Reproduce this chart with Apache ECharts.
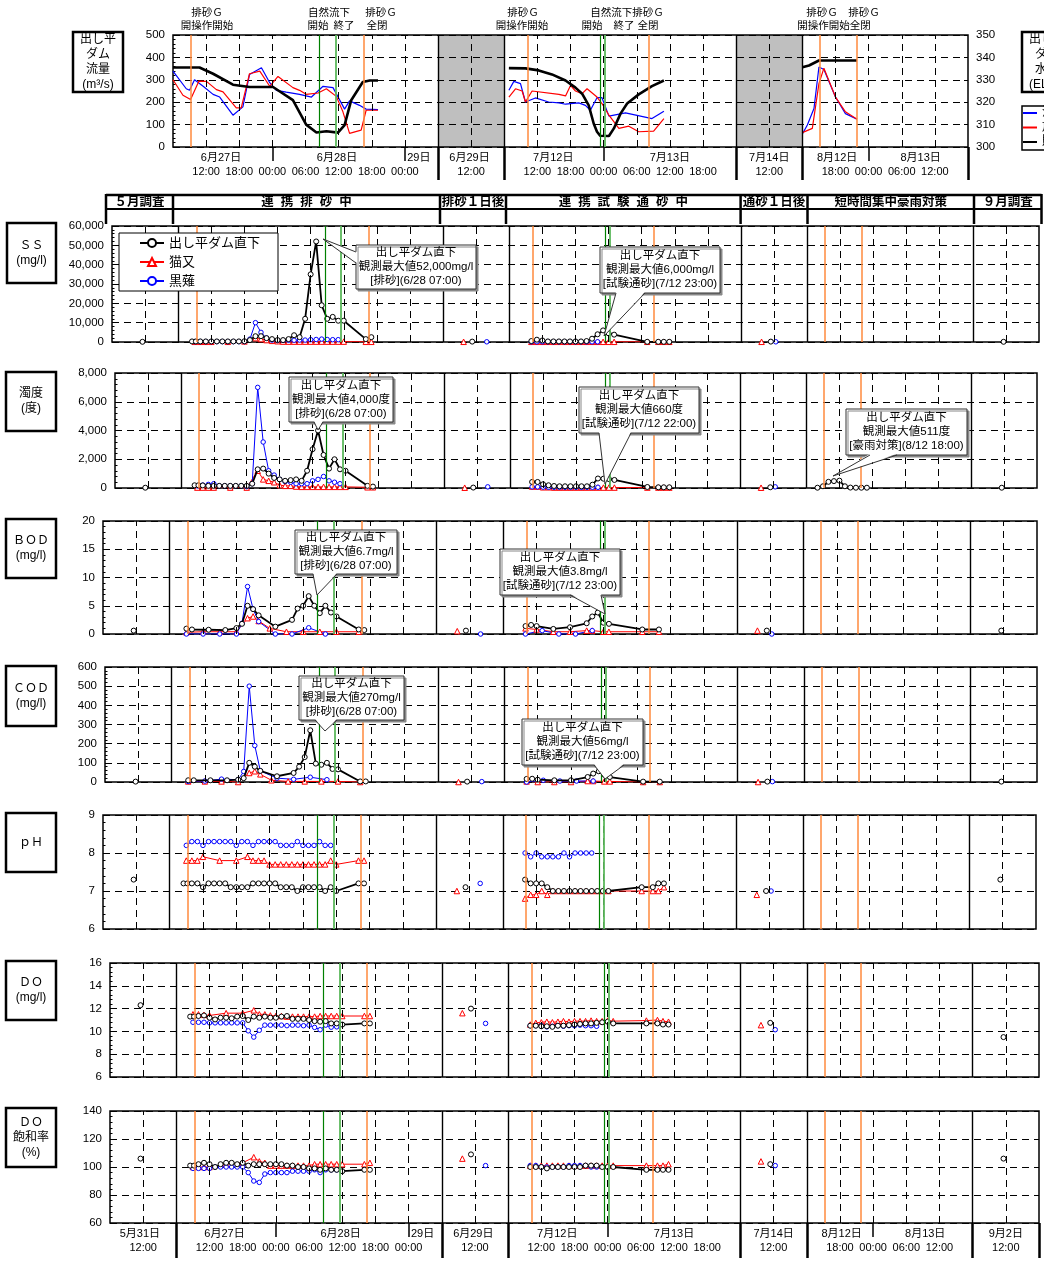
<!DOCTYPE html>
<html>
<head>
<meta charset="utf-8">
<script src="https://cdn.jsdelivr.net/npm/echarts@6/dist/echarts.min.js"></script>
<style>
html, body { margin: 0; padding: 0; background: #fff; }
#main { width: 1044px; height: 1263px; }
</style>
</head>
<body>
<div id="main"></div>
<script>
// x axis is a broken time axis: 1 unit = 6 hours, segments glued together
// 5/31 06:00 = 0, 6/27 06:00 = 2, 6/29 06:00 = 10, 7/12 06:00 = 12,
// 7/14 06:00 = 19, 8/12 12:00 = 21, 9/2 06:00 = 26, end = 28
const U_B = h => 2 + h / 6
const U_D = h => 12 + h / 6
const U_F = h => 21 + h / 6
const segBounds = [2, 10, 12, 19, 21, 26]

// sampling hours (after 6/27 06:00 / 7/12 06:00 / 8/12 12:00)
const hBlackB = [2.5, 3.2, 4, 5, 6, 7, 8, 9, 10, 11, 12, 13, 14, 15, 16, 17, 18, 19, 20, 21, 22, 23, 24, 25, 26, 27, 28, 29, 30, 34, 35]
const hRedB = [3, 4, 5, 6, 9, 12, 14, 15, 16, 17, 18, 19, 20, 21, 22, 23, 24, 25, 26, 27, 28, 29, 30, 34, 35]
const hBlueB = [3, 4, 5, 6, 7, 8, 9, 10, 11, 12, 13, 14, 15, 16, 17, 18, 19, 20, 21, 22, 23, 24, 25, 26, 27, 28, 29]
const hBlackD = [4, 5, 6, 7, 8, 9, 10, 11, 12, 13, 14, 15, 16, 17, 18, 19, 25, 27, 28, 29]
const hRedD = [4, 5, 6, 7, 8, 9, 10, 11, 12, 13, 14, 15, 16, 17, 18, 19, 25, 27, 28, 29]
const hBlueD = [4, 5, 6, 7, 8, 9, 10, 11, 12, 13, 14, 15, 16]
// BOD / COD sampling
const hBlackBQ = [3, 4, 7, 10, 12, 13, 14, 15, 16, 19, 22, 23, 24, 25, 26, 27, 28, 29, 30, 34, 35]
const hRedBQ = [3, 6, 9, 12, 14, 15, 16, 18, 21, 24, 27, 30, 34]
const hBlueBQ = [3, 6, 9, 12, 13, 14, 15, 16, 19, 22, 25, 28]
const hBlackDQ = [4, 5, 6, 9, 12, 15, 16, 17, 18, 19, 25, 28]
const hRedDQ = [4, 6, 9, 12, 15, 16, 18, 19, 25, 28]
const hBlueDQ = [4, 7, 10, 13, 16]
const hTurbF = [2, 3, 4, 5, 6, 7, 8, 9, 10, 11]
// single surveys (5/31, 6/29, 7/14, 9/2) in axis units
const spotBlack = [0.92, 10.88, 19.9, 26.93]
const spotRed = [10.62, 19.62]
const spotBlue = [11.32, 20.05]

const tBlack = [spotBlack[0], ...hBlackB.map(U_B), spotBlack[1], ...hBlackD.map(U_D), spotBlack[2], spotBlack[3]]
const tRed = [...hRedB.map(U_B), spotRed[0], ...hRedD.map(U_D), spotRed[1]]
const tBlue = [...hBlueB.map(U_B), spotBlue[0], ...hBlueD.map(U_D), spotBlue[1]]
const tBlackQ = [spotBlack[0], ...hBlackBQ.map(U_B), spotBlack[1], ...hBlackDQ.map(U_D), spotBlack[2], spotBlack[3]]
const tRedQ = [...hRedBQ.map(U_B), spotRed[0], ...hRedDQ.map(U_D), spotRed[1]]
const tBlueQ = [...hBlueBQ.map(U_B), spotBlue[0], ...hBlueDQ.map(U_D), spotBlue[1]]
const tBlackTurb = [...tBlack.slice(0, -1), ...hTurbF.map(U_F), tBlack[tBlack.length - 1]]

// SS (mg/l)
const ssBlack = [100,
  300, 300, 300, 300, 300, 300, 300, 300, 300, 300, 400, 1000, 3000, 3000, 2000, 1500, 1000, 1000, 1500, 3500, 2500, 12000, 35000, 52000, 19000, 12000, 13000, 11000, 11000, 1500, 2500,
  200,
  500, 1200, 800, 300, 300, 300, 300, 300, 300, 300, 500, 1700, 4000, 6000, 4500, 3800, 100, 100, 100, 100,
  200, 100]
const ssRed = [100, 100, 100, 100, 100, 300, 2000, 1500, 1000, 600, 400, 200, 200, 200, 200, 200, 200, 200, 200, 200, 200, 200, 200, 100, 100,
  100,
  100, 100, 100, 100, 100, 100, 100, 100, 100, 100, 100, 100, 100, 100, 100, 100, 100, 100, 100, 100,
  100]
const ssBlue = [200, 200, 200, 200, 200, 200, 200, 200, 200, 200, 1500, 10000, 5000, 2000, 1000, 800, 800, 900, 900, 1000, 1000, 1200, 1300, 1500, 1300, 1200, 1200,
  100,
  100, 100, 100, 100, 100, 100, 100, 100, 100, 100, 100, 100, 100,
  100]
// 濁度 (度)
const turbBlack = [20,
  190, 190, 180, 150, 150, 150, 150, 150, 150, 150, 150, 300, 1300, 1350, 1000, 700, 600, 500, 550, 600, 500, 1200, 2700, 4000, 2300, 1350, 2000, 1300, 1200, 150, 100,
  30,
  420, 420, 260, 190, 140, 120, 120, 120, 120, 120, 120, 230, 660, 650, 620, 560, 70, 50, 50, 50,
  50,
  20, 120, 430, 480, 511, 120, 30, 20, 20, 20,
  20]
const turbRed = [30, 30, 30, 30, 30, 30, 1200, 600, 500, 400, 200, 150, 150, 100, 80, 80, 80, 80, 80, 80, 80, 80, 80, 50, 50,
  20,
  100, 100, 50, 50, 30, 30, 30, 30, 30, 30, 30, 30, 30, 30, 30, 30, 30, 30, 30, 30,
  20]
const turbBlue = [150, 200, 250, 300, 150, 150, 150, 150, 150, 100, 300, 7000, 3200, 1200, 900, 600, 450, 400, 300, 300, 300, 500, 600, 800, 500, 400, 300,
  80,
  80, 80, 60, 50, 50, 50, 50, 50, 50, 50, 50, 50, 50,
  80]
// BOD (mg/l)
const bodBlack = [0.6,
  0.95, 0.8, 0.75, 0.7, 1.05, 1.8, 5.0, 4.4, 3.3, 1.3, 2.5, 4.5, 5.0, 6.7, 5.0, 3.7, 5.0, 3.8, 3.1, 0.8, 0.7,
  0.6,
  1.4, 1.6, 1.4, 0.9, 1.2, 1.9, 3.1, 3.8, 2.0, 1.8, 0.8, 0.8,
  0.6, 0.6]
const bodRed = [0.3, 0.4, 0.4, 0.4, 2.8, 3.1, 2.3, 1.0, 0.4, 0.4, 0.4, 0.4, 0.4,
  0.5,
  1.0, 0.8, 0.4, 0.4, 0.6, 0.6, 0.4, 0.4, 0.4, 0.4,
  0.6]
const bodBlue = [0, 0, 0, 0, 1.9, 8.4, 4.4, 2.2, 0, 0, 1.1, 0,
  0,
  0, 0.6, 0, 0, 0.6,
  0]
// COD (mg/l)
const codBlack = [2,
  9, 9, 9, 9, 12, 20, 100, 80, 58, 30, 47, 80, 130, 270, 96, 90, 100, 68, 66, 3, 3,
  2,
  16, 17, 12, 9, 9, 26, 44, 56, 38, 26, 2, 2,
  2, 2]
const codRed = [3, 3, 3, 0, 47, 56, 40, 9, 3, 3, 3, 3, 0,
  0,
  3, 0, 0, 0, 5, 5, 3, 3, 0, 0,
  0]
const codBlue = [3, 5, 15, 12, 55, 500, 190, 58, 20, 14, 25, 12,
  2,
  0, 9, 5, 5, 5,
  2]
// pH
const phBlack = [7.3,
  7.2, 7.2, 7.2, 7.2, 7.1, 7.2, 7.2, 7.2, 7.2, 7.1, 7.1, 7.1, 7.1, 7.2, 7.2, 7.2, 7.2, 7.2, 7.1, 7.1, 7.1, 7.0, 7.1, 7.1, 7.1, 7.1, 7.0, 7.1, 7.0, 7.2, 7.2,
  7.1,
  7.3, 7.2, 7.2, 7.2, 7.1, 7.0, 7.0, 7.0, 7.0, 7.0, 7.0, 7.0, 7.0, 7.0, 7.0, 7.0, 7.1, 7.1, 7.2, 7.2,
  7.0, 7.3]
const phRed = [7.8, 7.8, 7.8, 7.9, 7.8, 7.8, 7.9, 7.8, 7.8, 7.8, 7.7, 7.7, 7.7, 7.7, 7.7, 7.7, 7.7, 7.7, 7.7, 7.7, 7.7, 7.8, 7.7, 7.8, 7.8,
  7.0,
  6.8, 6.9, 6.9, 7.0, 6.9, 7.0, 7.0, 7.0, 7.0, 7.0, 7.0, 7.0, 7.0, 7.0, 7.0, 7.0, 7.0, 7.0, 7.0, 7.1,
  6.9]
const phBlue = [8.2, 8.3, 8.3, 8.2, 8.3, 8.3, 8.3, 8.3, 8.3, 8.2, 8.3, 8.3, 8.2, 8.3, 8.3, 8.3, 8.3, 8.2, 8.2, 8.2, 8.3, 8.2, 8.2, 8.2, 8.3, 8.2, 8.2,
  7.2,
  8.0, 7.9, 8.0, 7.9, 7.9, 7.9, 7.9, 8.0, 7.9, 8.0, 8.0, 8.0, 8.0,
  7.0]
// DO (mg/l)
const doBlack = [12.3,
  11.3, 11.3, 11.35, 11.4, 11.2, 11.05, 11.2, 11.2, 11.15, 11.3, 11.35, 11.0, 11.3, 11.2, 11.3, 11.2, 11.2, 11.3, 11.35, 11.1, 11.1, 11.1, 11.0, 10.9, 10.85, 10.9, 10.7, 10.7, 10.6, 10.7, 10.7,
  12.0,
  10.5, 10.5, 10.45, 10.45, 10.4, 10.5, 10.5, 10.55, 10.6, 10.65, 10.7, 10.7, 10.75, 10.8, 10.85, 10.7, 10.7, 10.7, 10.6, 10.6,
  10.75, 9.5]
const doRed = [11.5, 11.5, 11.45, 11.4, 11.6, 11.6, 11.85, 11.5, 11.5, 11.4, 11.35, 11.35, 11.3, 11.3, 11.3, 11.3, 11.3, 11.3, 11.35, 11.35, 11.35, 11.35, 11.35, 11.35, 11.35,
  11.6,
  10.6, 10.75, 10.8, 10.85, 10.8, 10.85, 10.9, 10.85, 10.9, 10.9, 10.9, 10.95, 10.9, 10.9, 10.95, 10.9, 10.95, 11.0, 10.9, 10.85,
  10.55]
const doBlue = [10.8, 10.8, 10.8, 10.75, 10.75, 10.75, 10.75, 10.75, 10.75, 10.75, 10.05, 9.5, 10.1, 10.55, 10.55, 10.55, 10.55, 10.5, 10.55, 10.55, 10.5, 10.55, 10.35, 10.15, 10.55, 10.37, 10.4,
  10.7,
  10.5, 10.5, 10.5, 10.4, 10.45, 10.5, 10.45, 10.5, 10.5, 10.55, 10.5, 10.5, 10.45,
  10.15]
// DO 飽和率 (%)
const dosBlack = [106,
  101, 101, 102, 103, 102, 100, 102, 103, 103, 102, 103, 101, 102, 102, 102, 102, 102, 102, 101, 101, 100, 100, 99, 99, 98, 99, 98, 98, 97, 98, 98,
  109,
  100, 100, 100, 99, 100, 100, 100, 100, 100, 100, 101, 101, 101, 100, 100, 100, 98, 98, 98, 98,
  102, 106]
const dosRed = [100, 100, 100, 100, 102, 103, 107, 104, 103, 101, 101, 101, 101, 101, 101, 101, 101, 102, 102, 102, 102, 102, 102, 102, 103,
  106,
  101, 101, 101, 101, 101, 101, 101, 101, 101, 101, 101, 101, 101, 101, 101, 101, 101, 101, 101, 102,
  104]
const dosBlue = [99, 99, 99, 99, 100, 100, 100, 100, 100, 100, 96, 90, 89, 95, 96, 96, 96, 96, 97, 97, 97, 97, 98, 96, 98, 98, 98,
  101,
  101, 101, 100, 100, 100, 100, 100, 101, 101, 101, 101, 100, 100,
  101]

// top panel: flows (m3/s) and reservoir level (EL.m), x in axis units
const inflowT = [2, 2.4, 2.5, 2.65, 2.91, 3.21, 3.41, 3.81, 4.11, 4.31, 4.67, 4.92, 5.12, 5.42, 5.82, 6.18, 6.53, 6.83, 7.18, 7.33, 7.63, 7.83, 8.19,
  12.14, 12.29, 12.49, 12.64, 12.94, 13.34, 13.65, 13.85, 14.25, 14.45, 14.6, 14.8, 14.95, 15.16, 15.66, 16.46, 16.82,
  21.0, 21.15, 21.35, 21.5, 21.65, 22.0, 22.3, 22.65]
const inflow = [339, 260, 253, 300, 271, 235, 223, 142, 179, 324, 354, 287, 253, 245, 235, 223, 271, 265, 169, 206, 186, 169, 167,
  253, 293, 283, 201, 219, 201, 197, 191, 197, 186, 164, 220, 220, 138, 152, 127, 160,
  58, 98, 172, 357, 346, 223, 149, 124]
const outflowT = [2, 2.3, 2.53, 2.78, 3.01, 3.31, 3.51, 3.91, 4.06, 4.31, 4.62, 4.92, 5.17, 5.62, 5.82, 6.02, 6.38, 6.63, 6.93, 7.13, 7.33, 7.68, 7.83, 8.19,
  12.14, 12.34, 12.54, 12.64, 12.84, 13.65, 13.85, 14.0, 14.15, 14.35, 14.5, 14.8, 14.95, 15.16, 15.46, 15.76, 16.06, 16.51, 16.82,
  21.0, 21.3, 21.5, 21.65, 22.0, 22.3, 22.65]
const outflow = [300, 231, 212, 294, 293, 256, 246, 175, 175, 327, 339, 271, 315, 265, 253, 235, 241, 260, 226, 157, 61, 75, 164, 164,
  223, 260, 250, 201, 250, 235, 228, 275, 250, 238, 260, 223, 194, 142, 83, 93, 68, 71, 127,
  64, 83, 283, 352, 223, 157, 124]
const levelT = [2, 2.8, 3.21, 3.81, 4.31, 5.02, 5.62, 6.02, 6.33, 6.63, 6.98, 7.18, 7.38, 7.73, 7.94, 8.19,
  12.14, 12.64, 13.04, 13.44, 13.85, 14.15, 14.35, 14.55, 14.7, 14.8, 14.9, 15.16, 15.31, 15.51, 15.71, 16.06, 16.46, 16.82,
  21.0, 21.2, 21.5, 22.65]
const level = [335.5, 335.5, 332.7, 327.8, 326.8, 326.8, 320.9, 310, 306.5, 307, 306.4, 309.8, 320.9, 329, 329.7, 329.7,
  335.2, 335.1, 334.2, 332.4, 329.7, 326.5, 323.8, 318.6, 310.5, 306.8, 305, 304.9, 308.3, 314.9, 319.4, 323.5, 327.2, 329.7,
  335.6, 336.4, 338.6, 338.6]

// gate / natural flow events (axis units)
const eventOrange = [2.55, 7.75, 12.7, 16.37, 21.53, 22.64]
const eventGreen = [6.43, 6.91, 14.9, 15.03]

// tick labels
const timeTickPos = [1, 3, 4, 5, 6, 7, 8, 9, 11, 13, 14, 15, 16, 17, 18, 20, 22, 23, 24, 25, 27]
const timeTickText = ['12:00', '12:00', '18:00', '00:00', '06:00', '12:00', '18:00', '00:00', '12:00', '12:00', '18:00', '00:00', '06:00', '12:00', '18:00', '12:00', '18:00', '00:00', '06:00', '12:00', '12:00']
const dayTickPos = [0.9, 3.45, 6.95, 9.42, 10.95, 13.48, 17.0, 20.0, 22.05, 24.57, 27.0]
const dayTickText = ['5月31日', '6月27日', '6月28日', '29日', '6月29日', '7月12日', '7月13日', '7月14日', '8月12日', '8月13日', '9月2日']
const headerText = ['５月調査', '連  携  排  砂  中', '排砂１日後', '連  携  試  験  通  砂  中', '通砂１日後', '短時間集中豪雨対策', '９月調査']

const FONT = "'Liberation Sans', 'Noto Sans CJK JP', sans-serif"

const segOf = u => segBounds.filter(b => b <= u).length
function pts(t, v, name) {
   if (t.length !== v.length) throw new Error(name + ': ' + t.length + ' vs ' + v.length)
   const out = []
   t.forEach((u, i) => {
      if (i > 0 && segOf(u) !== segOf(t[i - 1])) out.push([u, '-'])
      out.push([u, v[i]])
   })
   return out
}

// panels: 0 flow, 1 SS, 2 turb, 3 BOD, 4 COD, 5 pH, 6 DO, 7 DO%
const panels = [
   { left: 173, top: 35, width: 795, height: 112, xmin: 2, xmax: 26, ymin: 0, ymax: 500, step: 100 },
   { left: 112, top: 226, width: 927, height: 116, xmin: 0, xmax: 28, ymin: 0, ymax: 60000, step: 10000 },
   { left: 115, top: 373, width: 922, height: 115, xmin: 0, xmax: 28, ymin: 0, ymax: 8000, step: 2000 },
   { left: 103, top: 521, width: 934, height: 113, xmin: 0, xmax: 28, ymin: 0, ymax: 20, step: 5 },
   { left: 105, top: 667, width: 932, height: 115, xmin: 0, xmax: 28, ymin: 0, ymax: 600, step: 100 },
   { left: 103, top: 815, width: 933, height: 114, xmin: 0, xmax: 28, ymin: 6, ymax: 9, step: 1 },
   { left: 110, top: 963, width: 929, height: 114, xmin: 0, xmax: 28, ymin: 6, ymax: 16, step: 2 },
   { left: 110, top: 1111, width: 929, height: 112, xmin: 0, xmax: 28, ymin: 60, ymax: 140, step: 20 }
]

const dash = [7, 5]
const grids = [], xAxes = [], yAxes = [], series = []
const lookup = (pos, text) => v => {
   const i = pos.findIndex(p => Math.abs(p - v) < 1e-6)
   return i >= 0 ? text[i] : ''
}

panels.forEach((p, g) => {
   grids.push({ left: p.left, top: p.top, width: p.width, height: p.height, show: true, borderColor: '#000', borderWidth: 1.5, backgroundColor: '#fff' })
   const withLabels = g === 0 || g === 7
   xAxes.push({
      gridIndex: g, type: 'value', min: p.xmin, max: p.xmax, position: 'bottom',
      axisLine: { show: false },
      axisTick: withLabels ? {
         show: true, length: g === 0 ? 33 : 35,
         customValues: g === 0 ? [10, 12, 19, 21, 26] : [2, 10, 12, 19, 21, 26, 28],
         lineStyle: { color: '#000', width: 2.5 }
      } : { show: false },
      axisLabel: withLabels ? {
         show: true, margin: 19, fontSize: 11, color: '#000', fontFamily: FONT,
         customValues: timeTickPos.filter(v => v > p.xmin && v < p.xmax),
         formatter: lookup(timeTickPos, timeTickText)
      } : { show: false },
      splitLine: { show: false }
   })
   yAxes.push({
      gridIndex: g, type: 'value', min: p.ymin, max: p.ymax, interval: p.step, position: 'left',
      axisLine: { show: false },
      axisTick: { show: true, inside: true, length: 4, lineStyle: { color: '#000' } },
      minorTick: { show: true, splitNumber: 5, length: 2.5, lineStyle: { color: '#000' } },
      axisLabel: { fontSize: 11.5, color: '#000', margin: 8, fontFamily: FONT },
      splitLine: { show: true, lineStyle: { color: '#000', type: dash, width: 1 } }
   })

   // vertical grid lines and event lines
   const lines = []
   for (let u = p.xmin + 1; u < p.xmax; u++) {
      const solid = segBounds.includes(u)
      lines.push({ xAxis: u, lineStyle: { color: '#000', type: solid ? 'solid' : dash, width: solid ? 1.4 : 1 } })
   }
   eventOrange.forEach(u => lines.push({ xAxis: u, lineStyle: { color: '#ff8a3c', type: 'solid', width: 1.5 } }))
   eventGreen.forEach((u, i) => lines.push({ xAxis: u, lineStyle: { color: i % 2 ? '#5cb85c' : '#008000', type: 'solid', width: i % 2 ? 1.8 : 1.2 } }))
   const deco = {
      type: 'line', xAxisIndex: g, yAxisIndex: g, data: [], silent: true, z: 1,
      markLine: { symbol: ['none', 'none'], silent: true, animation: false, label: { show: false }, data: lines }
   }
   if (g === 0) {
      deco.markArea = {
         silent: true, itemStyle: { color: 'rgba(0,0,0,0.25)' },
         data: [[{ xAxis: 10 }, { xAxis: 12 }], [{ xAxis: 19 }, { xAxis: 21 }]]
      }
   }
   series.push(deco)
})

// day label axes for top and bottom panels
;[0, 7].forEach(g => {
   const p = panels[g]
   xAxes.push({
      gridIndex: g, type: 'value', min: p.xmin, max: p.xmax, position: 'bottom',
      axisLine: { show: false },
      axisTick: { show: true, length: 14, customValues: [5, 9, 15, 23], lineStyle: { color: '#000', width: 1.5 } },
      axisLabel: {
         show: true, margin: 5, fontSize: 11, color: '#000', fontFamily: FONT,
         customValues: dayTickPos.filter(v => v > p.xmin && v < p.xmax),
         formatter: lookup(dayTickPos, dayTickText)
      },
      splitLine: { show: false }
   })
})
// right axis: reservoir level
yAxes.push({
   gridIndex: 0, type: 'value', min: 300, max: 350, interval: 10, position: 'right',
   axisLine: { show: false },
   axisTick: { show: true, inside: true, length: 4, lineStyle: { color: '#000' } },
   axisLabel: { fontSize: 11.5, color: '#000', margin: 8, fontFamily: FONT },
   splitLine: { show: false }
})

// top panel lines
series.push({ type: 'line', name: '流入量', xAxisIndex: 0, yAxisIndex: 0, symbol: 'none', data: pts(inflowT, inflow, 'inflow'), lineStyle: { color: '#0000ff', width: 1.2 }, itemStyle: { color: '#0000ff' }, z: 3 })
series.push({ type: 'line', name: '放流量', xAxisIndex: 0, yAxisIndex: 0, symbol: 'none', data: pts(outflowT, outflow, 'outflow'), lineStyle: { color: '#ff0000', width: 1.2 }, itemStyle: { color: '#ff0000' }, z: 3 })
series.push({ type: 'line', name: '貯水位', xAxisIndex: 0, yAxisIndex: 8, symbol: 'none', data: pts(levelT, level, 'level'), lineStyle: { color: '#000', width: 2.6 }, itemStyle: { color: '#000' }, z: 4 })

const STATION = {
   red: { name: '猫又', color: '#ff0000', width: 1, symbol: 'triangle', size: 5.5, z: 3 },
   blue: { name: '黒薙', color: '#0000ff', width: 1, symbol: 'circle', size: 4.5, z: 3 },
   black: { name: '出し平ダム直下', color: '#000', width: 1.8, symbol: 'circle', size: 5, z: 4 }
}
function station(key, g, t, v) {
   const s = STATION[key]
   series.push({
      type: 'line', name: s.name, xAxisIndex: g, yAxisIndex: g, data: pts(t, v, s.name + g),
      symbol: s.symbol, symbolSize: s.size, showSymbol: true, z: s.z,
      lineStyle: { color: s.color, width: s.width },
      itemStyle: { color: '#fff', borderColor: s.color, borderWidth: 1 }
   })
}
station('red', 1, tRed, ssRed); station('blue', 1, tBlue, ssBlue); station('black', 1, tBlack, ssBlack)
station('red', 2, tRed, turbRed); station('blue', 2, tBlue, turbBlue); station('black', 2, tBlackTurb, turbBlack)
station('red', 3, tRedQ, bodRed); station('blue', 3, tBlueQ, bodBlue); station('black', 3, tBlackQ, bodBlack)
station('red', 4, tRedQ, codRed); station('blue', 4, tBlueQ, codBlue); station('black', 4, tBlackQ, codBlack)
station('red', 5, tRed, phRed); station('blue', 5, tBlue, phBlue); station('black', 5, tBlack, phBlack)
station('red', 6, tRed, doRed); station('blue', 6, tBlue, doBlue); station('black', 6, tBlack, doBlack)
station('red', 7, tRed, dosRed); station('blue', 7, tBlue, dosBlue); station('black', 7, tBlack, dosBlack)

// ---- decorations: label boxes, header table, annotations, callouts
const gfx = []
const text = (x, y, str, size, weight, lh) => gfx.push({
   type: 'text', x: x, y: y, z: 60, silent: true,
   style: { text: str, font: (weight || 'normal') + ' ' + size + 'px ' + FONT, fill: '#000', align: 'center', verticalAlign: 'middle', textAlign: 'center', textVerticalAlign: 'middle', lineHeight: lh || size + 3 }
})
const line = (x1, y1, x2, y2, w) => gfx.push({ type: 'line', z: 55, silent: true, shape: { x1, y1, x2, y2 }, style: { stroke: '#000', lineWidth: w } })

const labelBoxes = [
   [73, 32, 50, 60, '出し平\nダム\n流量\n(m³/s)'],
   [1022, 32, 50, 60, '出し平\nダム\n水位\n(EL.m)'],
   [7, 223, 49, 60, 'ＳＳ\n(mg/l)'],
   [6, 372, 50, 59, '濁度\n(度)'],
   [6, 519, 50, 59, 'ＢＯＤ\n(mg/l)'],
   [6, 666, 50, 60, 'ＣＯＤ\n(mg/l)'],
   [6, 813, 50, 59, 'ｐＨ'],
   [6, 961, 50, 59, 'ＤＯ\n(mg/l)'],
   [6, 1108, 50, 59, 'ＤＯ\n飽和率\n(%)']
]
labelBoxes.forEach(([x, y, w, h, s]) => {
   gfx.push({ type: 'rect', z: 50, silent: true, shape: { x, y, width: w, height: h }, style: { fill: '#fff', stroke: '#000', lineWidth: 2.5 } })
   text(x + w / 2, y + h / 2, s, 12, 'normal', 15)
})

// header table over the water-quality panels
const headerCols = [106, 173, 440, 506, 740.6, 807.5, 974, 1041.5]
line(106, 195, 1041.5, 195, 2.5)
line(106, 209, 1041.5, 209, 2)
headerCols.forEach(x => line(x, 194, x, 224, 2.5))
headerText.forEach((s, i) => text((headerCols[i] + headerCols[i + 1]) / 2, 202.5, s, 12.5, 'bold'))

// event notes above the top panel
const notes = [
   ['排砂Ｇ', 207, 13], ['開操作開始', 207, 26],
   ['自然流下', 329, 13], ['開始', 318, 26], ['終了', 344, 26],
   ['排砂Ｇ', 381, 13], ['全閉', 377, 26],
   ['排砂Ｇ', 523, 13], ['開操作開始', 522, 26],
   ['自然流下排砂Ｇ', 627, 13], ['開始', 592, 26], ['終了', 624, 26], ['全閉', 648, 26],
   ['排砂Ｇ', 822, 13], ['排砂Ｇ', 864, 13], ['開操作開始全閉', 834, 26]
]
notes.forEach(([s, x, y]) => text(x, y, s, 10.5))

// callouts: box, tail base points, tail tip
const callouts = [
   [[356, 245, 476, 289], [[356, 252], [356, 263]], [323, 239], '出し平ダム直下\n観測最大値52,000mg/l\n[排砂](6/28 07:00)'],
   [[600, 247, 720, 293], [[616, 293], [645, 293]], [604, 336], '出し平ダム直下\n観測最大値6,000mg/l\n[試験通砂](7/12 23:00)'],
   [[289, 377, 393, 422], [[314, 422], [323, 422]], [318, 430], '出し平ダム直下\n観測最大値4,000度\n[排砂](6/28 07:00)'],
   [[579, 387, 699, 433], [[599, 433], [631, 433]], [605, 484], '出し平ダム直下\n観測最大値660度\n[試験通砂](7/12 22:00)'],
   [[846, 409, 967, 455], [[870, 455], [897, 455]], [833, 476], '出し平ダム直下\n観測最大値511度\n[豪雨対策](8/12 18:00)'],
   [[295, 530, 397, 574], [[313, 574], [337, 574]], [317, 595], '出し平ダム直下\n観測最大値6.7mg/l\n[排砂](6/28 07:00)'],
   [[500, 549, 620, 595], [[570, 595], [601, 595]], [605, 614], '出し平ダム直下\n観測最大値3.8mg/l\n[試験通砂](7/12 23:00)'],
   [[299, 676, 404, 720], [[315, 720], [337, 720]], [325, 731], '出し平ダム直下\n観測最大値270mg/l\n[排砂](6/28 07:00)'],
   [[522, 719, 643, 765], [[594, 765], [624, 765]], [605, 779], '出し平ダム直下\n観測最大値56mg/l\n[試験通砂](7/12 23:00)']
]
callouts.forEach(([b, base, tip, s]) => {
   gfx.push({
      type: 'rect', z: 70, silent: true, shape: { x: b[0], y: b[1], width: b[2] - b[0], height: b[3] - b[1] },
      style: { fill: '#fff', stroke: '#333', lineWidth: 1, shadowColor: '#888', shadowOffsetX: 2, shadowOffsetY: 2, shadowBlur: 0 }
   })
   const leftSide = base[0][0] === b[0]
   const inset = base.map(([x, y]) => leftSide ? [x + 1.2, y] : [x, y - 1.2])
   gfx.push({ type: 'polygon', z: 71, silent: true, shape: { points: [inset[0], tip, inset[1]] }, style: { fill: '#fff' } })
   gfx.push({ type: 'polyline', z: 72, silent: true, shape: { points: [base[0], tip, base[1]] }, style: { stroke: '#333', lineWidth: 1, fill: null } })
   gfx.push({
      type: 'text', x: (b[0] + b[2]) / 2, y: (b[1] + b[3]) / 2, z: 73, silent: true,
      style: { text: s, font: '11.5px ' + FONT, fill: '#000', align: 'center', verticalAlign: 'middle', textAlign: 'center', textVerticalAlign: 'middle', lineHeight: 14 }
   })
})

const chart = echarts.init(document.getElementById('main'))
chart.setOption({
   animation: false,
   backgroundColor: '#fff',
   textStyle: { fontFamily: FONT },
   grid: grids,
   xAxis: xAxes,
   yAxis: yAxes,
   legend: [
      {
         data: ['出し平ダム直下', '猫又', '黒薙'], orient: 'vertical', left: 119, top: 233,
         itemWidth: 24, itemHeight: 10, itemGap: 5, padding: [3, 18, 3, 20], selectedMode: false,
         backgroundColor: '#fff', borderColor: '#000', borderWidth: 1, z: 20,
         textStyle: { fontSize: 13, color: '#000', fontFamily: FONT, lineHeight: 14 }
      },
      {
         data: ['流入量', '放流量', '貯水位'], orient: 'vertical', left: 1022, top: 106,
         icon: 'rect', itemWidth: 14, itemHeight: 2, itemGap: 2.5, padding: [1, 4, 2, 1], selectedMode: false,
         backgroundColor: '#fff', borderColor: '#000', borderWidth: 1.5,
         textStyle: { fontSize: 12, color: '#000', fontFamily: FONT, lineHeight: 12 }
      }
   ],
   series: series,
   graphic: { elements: gfx }
})
</script>
</body>
</html>
